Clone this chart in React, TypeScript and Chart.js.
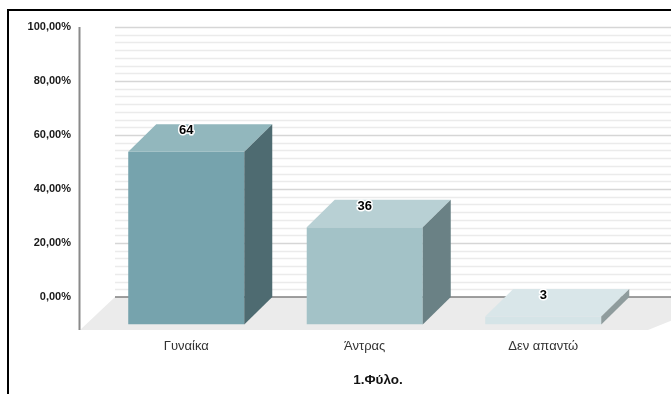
import React, { useEffect, useRef } from "react";
import { Chart, registerables } from "chart.js";

Chart.register(...registerables);

// Survey answers (percent of respondents)
const categories = ["Γυναίκα", "Άντρας", "Δεν απαντώ"];
const values = [64, 36, 3];
const valueLabels = ["64", "36", "3"];
const axisTitle = "1.Φύλο.";

// Axis range / ticks
const yMin = 0;
const yMax = 100;
const yStep = 20;
const minorPerMajor = 7;

// Face colours of each box
const frontColors = ["#76a3ad", "#a3c2c7", "#d5e4e7"];
const topColors = ["#92b7bd", "#b8d0d4", "#d9e6e9"];
const sideColors = ["#4e6b71", "#6a8185", "#8f9c9d"];

const W = 671;
const H = 394;
const DX = 28; // depth offset of the 3D boxes
const DY = 27.5;

const fontFamily = "'Liberation Sans', Arial, sans-serif";

const box3d = {
  id: "box3d",
  beforeDatasetsDraw(chart: any) {
    const { ctx, chartArea, scales } = chart;
    const y = scales.y;
    const L = chartArea.left;
    const B = chartArea.bottom;
    const wallLeft = L + 18;
    ctx.save();

    // back-wall grid (major + minor lines)
    const nLines = ((yMax - yMin) / yStep) * minorPerMajor;
    for (let k = 1; k <= nLines; k++) {
      const v = yMin + (k * (yMax - yMin)) / nLines;
      const py = Math.round(y.getPixelForValue(v) - DY) + 0.5;
      const major = k % minorPerMajor === 0;
      ctx.beginPath();
      ctx.strokeStyle = major ? "#d6d6d6" : "#ebebeb";
      ctx.lineWidth = 1.5;
      ctx.moveTo(wallLeft, py);
      ctx.lineTo(W, py);
      ctx.stroke();
    }

    // floor
    const backY = y.getPixelForValue(0) - DY;
    const frontY = B + 5.5;
    ctx.beginPath();
    ctx.fillStyle = "#ebebeb";
    ctx.moveTo(L - 17, frontY);
    ctx.lineTo(wallLeft, backY);
    ctx.lineTo(W + 60, backY);
    ctx.lineTo(L + 551, frontY);
    ctx.closePath();
    ctx.fill();

    // zero line on the back wall
    ctx.beginPath();
    ctx.strokeStyle = "#7f7f7f";
    ctx.lineWidth = 1.5;
    ctx.moveTo(wallLeft, backY);
    ctx.lineTo(W, backY);
    ctx.stroke();

    // vertical axis line
    ctx.beginPath();
    ctx.strokeStyle = "#8a8a8a";
    ctx.lineWidth = 2;
    ctx.moveTo(L - 17.5, y.getPixelForValue(yMax) - DY);
    ctx.lineTo(L - 17.5, frontY);
    ctx.stroke();
    ctx.restore();
  },
  afterDatasetsDraw(chart: any) {
    const { ctx } = chart;
    const meta = chart.getDatasetMeta(0);
    ctx.save();
    meta.data.forEach((bar: any, i: number) => {
      const { x, y, base, width } = bar.getProps(["x", "y", "base", "width"], true);
      const l = x - width / 2;
      const r = x + width / 2;
      // top face
      ctx.beginPath();
      ctx.fillStyle = topColors[i];
      ctx.moveTo(l, y);
      ctx.lineTo(r, y);
      ctx.lineTo(r + DX, y - DY);
      ctx.lineTo(l + DX, y - DY);
      ctx.closePath();
      ctx.fill();
      // side face
      ctx.beginPath();
      ctx.fillStyle = sideColors[i];
      ctx.moveTo(r, y);
      ctx.lineTo(r + DX, y - DY);
      ctx.lineTo(r + DX, base - DY);
      ctx.lineTo(r, base);
      ctx.closePath();
      ctx.fill();
    });
    // value labels
    ctx.font = `bold 13px ${fontFamily}`;
    ctx.textAlign = "center";
    ctx.textBaseline = "middle";
    ctx.lineJoin = "round";
    meta.data.forEach((bar: any, i: number) => {
      const { x, y } = bar.getProps(["x", "y"], true);
      ctx.strokeStyle = "#ffffff";
      ctx.lineWidth = 3;
      ctx.strokeText(valueLabels[i], x, y - 21);
      ctx.fillStyle = "#000000";
      ctx.fillText(valueLabels[i], x, y - 21);
    });
    ctx.restore();
  },
  afterDraw(chart: any) {
    const { ctx, chartArea } = chart;
    ctx.save();
    ctx.font = `bold 13.5px ${fontFamily}`;
    ctx.fillStyle = "#111111";
    ctx.textAlign = "center";
    ctx.textBaseline = "middle";
    ctx.fillText(axisTitle, chartArea.left + 281, 380);
    ctx.restore();
  },
};

export default function App() {
  const canvasRef = useRef<HTMLCanvasElement | null>(null);

  useEffect(() => {
    const canvas = canvasRef.current;
    if (!canvas) return;
    const chart = new Chart(canvas, {
      type: "bar",
      data: {
        labels: categories,
        datasets: [
          {
            data: values,
            backgroundColor: frontColors,
            borderWidth: 0,
            barPercentage: 0.65,
            categoryPercentage: 1,
          },
        ],
      },
      options: {
        responsive: false,
        animation: false,
        events: [],
        layout: { padding: { left: 20, right: 38.5, top: 54.5, bottom: 24.5 } },
        plugins: {
          legend: { display: false },
          tooltip: { enabled: false },
          title: { display: false },
        },
        scales: {
          x: {
            grid: { display: false },
            border: { display: false },
            ticks: {
              padding: 6,
              color: "#333333",
              font: { family: fontFamily, size: 13 },
            },
            afterFit(scale: any) {
              scale.height = 45;
            },
          },
          y: {
            min: yMin,
            max: yMax,
            grid: { display: false, drawTicks: false },
            border: { display: false },
            ticks: {
              stepSize: yStep,
              padding: 26,
              labelOffset: -DY,
              color: "#1a1a1a",
              font: { family: fontFamily, size: 11, weight: "bold" },
              callback: (v: any) => Number(v).toFixed(2).replace(".", ",") + "%",
            },
            afterFit(scale: any) {
              scale.width = 77;
            },
          },
        },
      },
      plugins: [box3d],
    });
    return () => chart.destroy();
  }, []);

  return (
    <div
      style={{
        position: "fixed",
        left: 0,
        top: 0,
        width: W,
        height: H,
        background: "#ffffff",
        overflow: "hidden",
      }}
    >
      <canvas ref={canvasRef} width={W} height={H} style={{ display: "block" }} />
      <div
        style={{
          position: "absolute",
          left: 7,
          top: 9,
          width: W + 20,
          height: H + 20,
          borderTop: "2px solid #000",
          borderLeft: "2px solid #000",
          boxSizing: "border-box",
        }}
      />
    </div>
  );
}
